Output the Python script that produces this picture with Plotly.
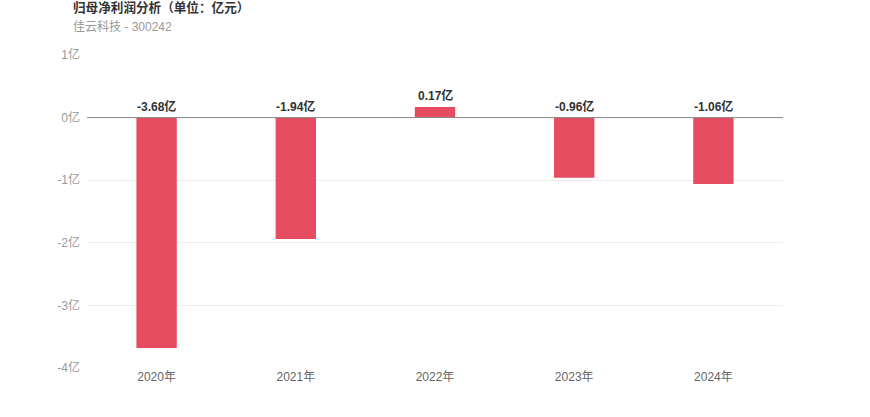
import plotly.graph_objects as go

years = ["2020年", "2021年", "2022年", "2023年", "2024年"]
values = [-3.68, -1.94, 0.17, -0.96, -1.06]
tick_vals = [1, 0, -1, -2, -3, -4]
tick_text = ["1亿", "0亿", "-1亿", "-2亿", "-3亿", "-4亿"]

FONT = "Liberation Sans, Arial, Noto Sans CJK SC, sans-serif"

fig = go.Figure()
fig.add_trace(go.Bar(
    x=years, y=values, marker_color="#E64C60", marker_line_width=0,
    width=0.29, hoverinfo="skip",
))

for yr, v in zip(years, values):
    fig.add_annotation(
        x=yr, y=max(v, 0), text=f"<b>{v:.2f}亿</b>", showarrow=False,
        yanchor="bottom", yshift=2, font=dict(size=12, color="#333", family=FONT),
    )

fig.add_shape(type="line", xref="paper", x0=0, x1=1, y0=0, y1=0,
              line=dict(color="#888", width=1))

fig.add_annotation(xref="paper", yref="paper", x=-16/696, y=1 + (55 - 8) / 313,
                   xanchor="left", yanchor="middle", showarrow=False,
                   text="<b>归母净利润分析（单位：亿元）</b>",
                   font=dict(size=12.6, color="#333", family=FONT))
fig.add_annotation(xref="paper", yref="paper", x=-16/696, y=1 + (55 - 27) / 313,
                   xanchor="left", yanchor="middle", showarrow=False,
                   text="佳云科技 - 300242",
                   font=dict(size=12, color="#999", family=FONT))

fig.update_layout(
    width=870, height=417,
    margin=dict(l=87, r=87, t=55, b=49),
    paper_bgcolor="white", plot_bgcolor="white",
    showlegend=False,
    font=dict(family=FONT, size=12, color="#999"),
    xaxis=dict(showgrid=False, showline=False, ticks="", tickfont=dict(color="#666", size=12)),
    yaxis=dict(range=[-4, 1], tickvals=tick_vals, ticktext=tick_text,
               showgrid=True, gridcolor="#eeeeee", zeroline=False, ticks="",
               tickfont=dict(color="#999", size=12), ticklabelstandoff=6),
)

fig.write_html("out.html", config={"displayModeBar": False},
               post_script="document.body.style.margin='0';")
